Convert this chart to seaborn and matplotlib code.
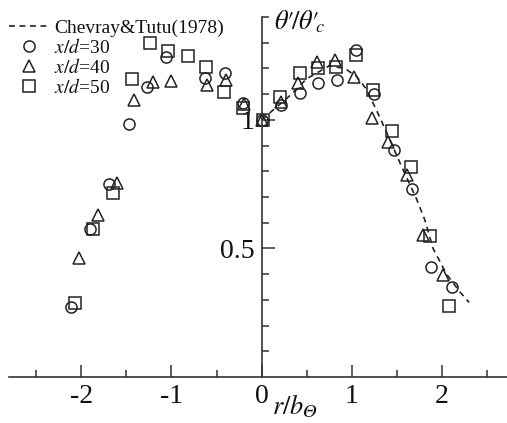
import matplotlib
matplotlib.use("Agg")
import matplotlib.pyplot as plt
import seaborn as sns
import pandas as pd
import numpy as np
from matplotlib.ticker import FixedLocator, FixedFormatter

# ---- data ----
ref_x = [0.0, 0.1, 0.3, 0.5, 0.75, 0.92, 1.05, 1.16, 1.27, 1.4, 1.55, 1.72, 1.81, 1.9, 2.05, 2.2, 2.3]
ref_y = [1.0, 1.03, 1.09, 1.16, 1.21, 1.20, 1.17, 1.12, 1.04, 0.94, 0.82, 0.69, 0.61, 0.50, 0.40, 0.33, 0.29]

x30 = [-2.11, -1.90, -1.69, -1.47, -1.27, -1.06, -0.63, -0.41, -0.21, 0.0, 0.22, 0.42, 0.63, 0.84, 1.05, 1.25, 1.47, 1.67, 1.88, 2.11]
y30 = [0.272, 0.576, 0.75, 0.984, 1.128, 1.245, 1.163, 1.183, 1.066, 1.0, 1.058, 1.105, 1.144, 1.156, 1.272, 1.10, 0.883, 0.73, 0.428, 0.35]

x40 = [-2.02, -1.81, -1.60, -1.41, -1.20, -1.00, -0.61, -0.40, -0.20, 0.0, 0.21, 0.40, 0.61, 0.81, 1.02, 1.22, 1.40, 1.61, 1.79, 2.01]
y40 = [0.463, 0.63, 0.755, 1.078, 1.148, 1.152, 1.136, 1.155, 1.06, 1.0, 1.07, 1.144, 1.226, 1.233, 1.167, 1.008, 0.914, 0.786, 0.553, 0.397]

x50 = [-2.07, -1.87, -1.65, -1.44, -1.24, -1.04, -0.82, -0.62, -0.42, -0.21, 0.01, 0.20, 0.42, 0.63, 0.83, 1.05, 1.24, 1.45, 1.66, 1.87, 2.08]
y50 = [0.288, 0.576, 0.716, 1.16, 1.30, 1.268, 1.249, 1.206, 1.109, 1.047, 1.0, 1.09, 1.183, 1.202, 1.206, 1.253, 1.117, 0.957, 0.817, 0.549, 0.276]

series_names = [r"$x/d$=30", r"$x/d$=40", r"$x/d$=50"]
series_x = [x30, x40, x50]
series_y = [y30, y40, y50]
series_markers = ["o", "^", "s"]
ref_label = "Chevray&Tutu(1978)"

# ---- style ----
sns.set_style("white")
plt.rcParams["font.family"] = ["Liberation Serif", "DejaVu Serif"]
plt.rcParams["mathtext.fontset"] = "stix"

W, H = 507, 423
fig = plt.figure(figsize=(W / 100, H / 100), dpi=100)
ax = fig.add_axes([9 / W, 46 / H, 498 / W, 360 / H])

ref_df = pd.DataFrame({"x": ref_x, "y": ref_y})
sns.lineplot(data=ref_df, x="x", y="y", ax=ax, color="#222222", lw=1.2,
             dashes=False, sort=False, estimator=None, label=ref_label,
             linestyle=(0, (3.5, 2.8)))

for name, xs, ys, m in zip(series_names, series_x, series_y, series_markers):
    d = pd.DataFrame({"x": xs, "y": ys})
    ms = 8.0 if m == "o" else 8.6
    sns.lineplot(data=d, x="x", y="y", ax=ax, sort=False, estimator=None,
                 linestyle="", marker=m, markersize=ms, markerfacecolor="none",
                 markeredgecolor="#222222", markeredgewidth=1.1, color="#222222",
                 label=name)

ax.set_xlim(-2.80, 2.72)
ax.set_ylim(0, 1.4)

for s in ["top", "right"]:
    ax.spines[s].set_visible(False)
ax.spines["left"].set_position(("data", 0))
ax.spines["bottom"].set_position(("data", 0))
for s in ["left", "bottom"]:
    ax.spines[s].set_color("#333333")
    ax.spines[s].set_linewidth(1.2)

ax.xaxis.set_major_locator(FixedLocator([-2, -1, 0, 1, 2]))
ax.xaxis.set_major_formatter(FixedFormatter(["-2", "-1", "0", "1", "2"]))
ax.xaxis.set_minor_locator(FixedLocator([-2.5, -1.5, -0.5, 0.5, 1.5, 2.5]))
ax.yaxis.set_major_locator(FixedLocator([0.5, 1.0]))
ax.yaxis.set_major_formatter(FixedFormatter(["0.5", "1"]))
ax.yaxis.set_minor_locator(FixedLocator([0.1, 0.2, 0.3, 0.4, 0.6, 0.7, 0.8, 0.9, 1.1, 1.2, 1.3, 1.4]))

ax.tick_params(axis="both", which="both", bottom=True, left=True, top=False, right=False)
ax.tick_params(axis="both", which="major", direction="in", length=9, width=1.1,
               color="#333333", labelsize=20, labelcolor="#111111")
ax.tick_params(axis="both", which="minor", direction="in", length=5, width=1.1,
               color="#333333")
ax.tick_params(axis="x", which="major", pad=5)
ax.tick_params(axis="y", which="major", pad=5)
ax.set_xlabel("")
ax.set_ylabel("")

ax.text(0.14, 1.35, "$\u03b8\u2032\\!/\u03b8\u2032\\!_c$", fontsize=19, va="baseline", ha="left",
        clip_on=False, color="#111111")
ax.text(0.12, -0.145, "$r/b_{\U0001D6E9}$", fontsize=19, va="baseline", ha="left",
        clip_on=False, color="#111111")

leg = ax.legend(loc="upper left", bbox_to_anchor=(-5 / W, 1 - 6 / H),
                bbox_transform=fig.transFigure, frameon=False, fontsize=14,
                handlelength=2.1, handletextpad=0.25, labelspacing=0.05,
                borderpad=0.2)
for t in leg.get_texts():
    t.set_color("#111111")

fig.savefig("out.png", dpi=100)
